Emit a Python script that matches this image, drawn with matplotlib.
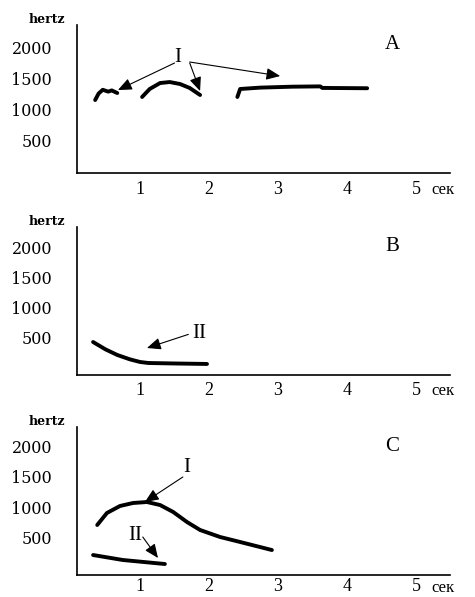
import matplotlib
matplotlib.use("Agg")
import matplotlib.pyplot as plt
import matplotlib.transforms as mtransforms

# ── data (time in s, frequency in Hz) ───────────────────────────────────────
a1_t = [0.35, 0.40, 0.46, 0.54, 0.59, 0.67]
a1_f = [1145, 1250, 1310, 1280, 1300, 1258]

a2_t = [1.03, 1.14, 1.29, 1.43, 1.58, 1.72, 1.87]
a2_f = [1194, 1323, 1419, 1435, 1403, 1339, 1226]

a3_t = [2.41, 2.45, 2.74, 3.20, 3.61, 3.64, 4.29]
a3_f = [1194, 1323, 1345, 1360, 1365, 1340, 1335]

b_t = [0.32, 0.50, 0.67, 0.85, 1.00, 1.12, 1.50, 1.97]
b_f = [433, 310, 217, 145, 100, 83, 75, 67]

c1_t = [0.38, 0.52, 0.71, 0.90, 1.10, 1.29, 1.48, 1.68, 1.87, 2.16, 2.45, 2.91]
c1_f = [700, 900, 1017, 1067, 1083, 1033, 917, 750, 617, 500, 417, 283]

c2_t = [0.32, 0.75, 1.36]
c2_f = [200, 117, 50]

x_ticks = [1, 2, 3, 4, 5]
y_ticks = [500, 1000, 1500, 2000]
y_labels = ["500", "1000", "1500", "2000"]

SERIF = ["Liberation Serif", "DejaVu Serif"]
W, H = 475, 597

fig = plt.figure(figsize=(W / 100, H / 100), dpi=100, facecolor="white")


def make_axes(top_px, bottom_px, ylim, letter, xpad):
    ax = fig.add_axes([77 / W, 1 - bottom_px / H, 373 / W, (bottom_px - top_px) / H])
    ax.set_xlim(0.087, 5.49)
    ax.set_ylim(*ylim)
    for s in ("top", "right"):
        ax.spines[s].set_visible(False)
    for s in ("left", "bottom"):
        ax.spines[s].set_linewidth(1.2)
        ax.spines[s].set_color("black")
    ax.set_xticks(x_ticks)
    ax.set_xticklabels([str(v) for v in x_ticks], family=SERIF, fontsize=13)
    ax.set_yticks(y_ticks)
    ax.set_yticklabels(y_labels, family="DejaVu Serif", fontsize=11.5)
    ax.tick_params(axis="x", length=0, pad=xpad)
    ax.tick_params(axis="y", length=0, pad=18)
    ax.text(-0.08, 1.04, "hertz", transform=ax.transAxes, ha="center", va="center",
            fontsize=9, fontweight="bold", family="DejaVu Serif")
    ax.text(0.845, 0.87, letter, transform=ax.transAxes, ha="center", va="center",
            fontsize=15, family=SERIF)
    # unit label next to the last tick, on the tick-label baseline
    trans = mtransforms.blended_transform_factory(
        ax.transData, ax.transAxes + mtransforms.ScaledTranslation(0, -(xpad + 6.5) / 72, fig.dpi_scale_trans))
    ax.text(5.22, 0, "сек", transform=trans, ha="left", va="center",
            fontsize=12, family=SERIF)
    return ax


arrow = dict(arrowstyle="-|>,head_length=0.7,head_width=0.3", lw=0.8,
             color="black", mutation_scale=12, shrinkA=0, shrinkB=0)

# ── panel A ─────────────────────────────────────────────────────────────────
axA = make_axes(25, 173, (-32, 2355), "A", 6)
for t, f in ((a1_t, a1_f), (a2_t, a2_f), (a3_t, a3_f)):
    axA.plot(t, f, color="black", lw=2.8, solid_capstyle="round")
axA.text(1.55, 1830, "I", ha="center", va="center", fontsize=15, family=SERIF)
axA.annotate("", xy=(0.68, 1306), xytext=(1.50, 1742), arrowprops=arrow)
axA.annotate("", xy=(1.87, 1290), xytext=(1.72, 1742), arrowprops=arrow)
axA.annotate("", xy=(3.03, 1532), xytext=(1.72, 1758), arrowprops=arrow)

# ── panel B ─────────────────────────────────────────────────────────────────
axB = make_axes(227, 375, (-117, 2350), "B", 5)
axB.plot(b_t, b_f, color="black", lw=2.8, solid_capstyle="round")
axB.text(1.76, 583, "II", ha="left", va="center", fontsize=15, family=SERIF)
axB.annotate("", xy=(1.10, 333), xytext=(1.70, 560), arrowprops=arrow)

# ── panel C ─────────────────────────────────────────────────────────────────
axC = make_axes(427, 575, (-133, 2333), "C", 2.5)
axC.plot(c1_t, c1_f, color="black", lw=2.8, solid_capstyle="round")
axC.plot(c2_t, c2_f, color="black", lw=2.8, solid_capstyle="round")
axC.text(1.68, 1650, "I", ha="center", va="center", fontsize=15, family=SERIF)
axC.annotate("", xy=(1.07, 1083), xytext=(1.62, 1500), arrowprops=arrow)
axC.text(0.93, 533, "II", ha="center", va="center", fontsize=15, family=SERIF)
axC.annotate("", xy=(1.26, 150), xytext=(1.04, 500), arrowprops=arrow)

fig.savefig("out.png", dpi=100, facecolor="white")
